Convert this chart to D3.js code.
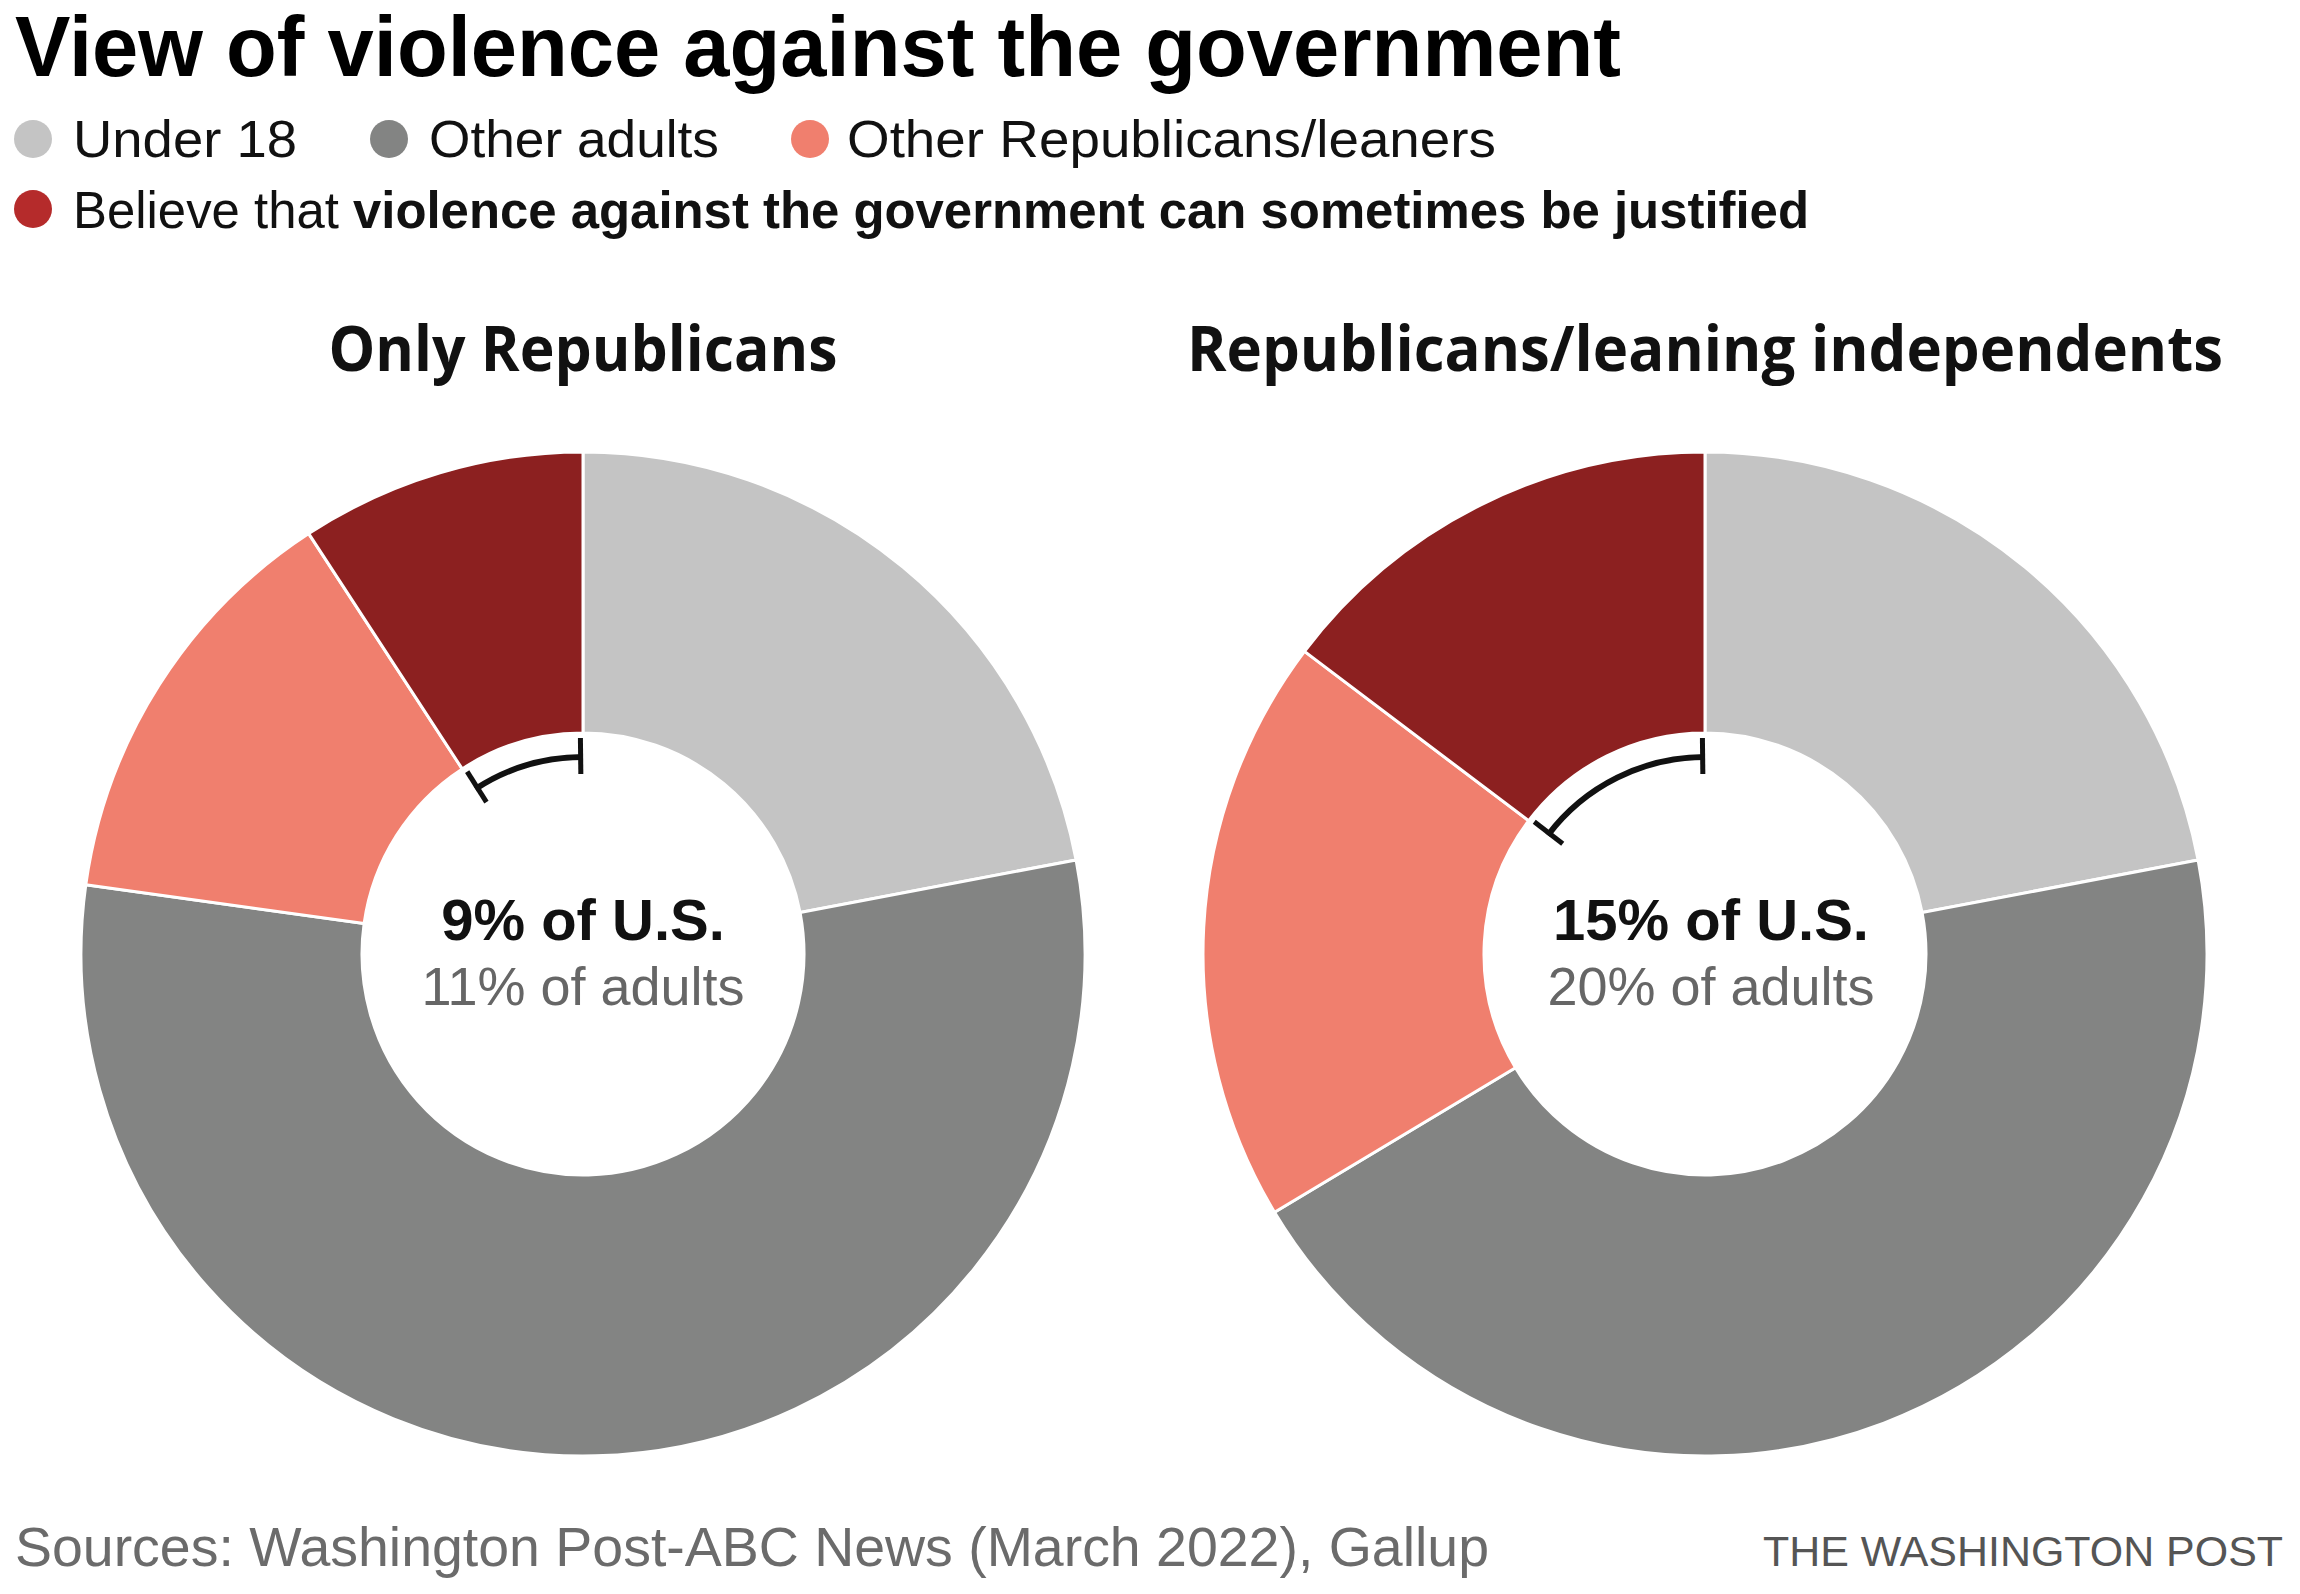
<!DOCTYPE html>
<html><head><meta charset="utf-8">
<script src="https://cdn.jsdelivr.net/npm/d3@7"></script>
<style>
html,body{margin:0;padding:0;background:#fff;}
svg{display:block;}
</style></head>
<body>
<svg id="chart" width="2300" height="1594"></svg>
<script>
// ---- data ----
const categories = ["Under 18", "Other adults", "Other Republicans/leaners", "Believe violence can be justified"];
const onlyRepublicans = [22, 55.2, 13.6, 9.2];
const republicansLeaners = [22, 44.4, 18.9, 14.7];
const panelTitles = ["Only Republicans", "Republicans/leaning independents"];
const centerMain = ["9% of U.S.", "15% of U.S."];
const centerSub = ["11% of adults", "20% of adults"];
const sliceColors = ["#c4c4c4", "#838483", "#f07f6e", "#8c2020"];
const legendColors = ["#c4c4c4", "#838483", "#f07f6e", "#b52b2b"];

const svg = d3.select("#chart");
const narrow = "'Liberation Sans Narrow', 'Liberation Sans', Arial, sans-serif";
const wide = "'Liberation Sans', Arial, sans-serif";

// Title
svg.append("text").attr("x", 15).attr("y", 76)
  .attr("font-family", narrow).attr("font-weight", 700).attr("font-size", 85)
  .attr("textLength", 1606).attr("lengthAdjust", "spacingAndGlyphs")
  .attr("fill", "#000").text("View of violence against the government");

// Legend row 1
const leg1 = [
  {i:0, cx:33, tx:73, w:224},
  {i:1, cx:389, tx:429, w:290},
  {i:2, cx:810, tx:847, w:649}
];
leg1.forEach(d => {
  svg.append("circle").attr("cx", d.cx).attr("cy", 139).attr("r", 19).attr("fill", legendColors[d.i]);
  svg.append("text").attr("x", d.tx).attr("y", 157)
    .attr("font-family", narrow).attr("font-size", 52).attr("fill", "#111")
    .attr("textLength", d.w).attr("lengthAdjust", "spacingAndGlyphs")
    .text(categories[d.i]);
});
// Legend row 2
svg.append("circle").attr("cx", 33).attr("cy", 209).attr("r", 19).attr("fill", legendColors[3]);
const t2 = svg.append("text").attr("x", 73).attr("y", 228)
  .attr("font-family", narrow).attr("font-size", 52).attr("fill", "#111")
  .attr("textLength", 1736).attr("lengthAdjust", "spacingAndGlyphs");
t2.append("tspan").text("Believe that ");
t2.append("tspan").attr("font-weight", 700).text("violence against the government can sometimes be justified");

// Pies
const panels = [
  {cx:583, cy:954, values:onlyRepublicans, titleW:509, textDx:0},
  {cx:1705, cy:954, values:republicansLeaners, titleW:1036, textDx:6}
];
const rOuter = 502, rInner = 221;
const pie = d3.pie().sort(null).value(d => d);
const arc = d3.arc().innerRadius(rInner).outerRadius(rOuter);

panels.forEach((p, k) => {
  svg.append("text").attr("x", p.cx).attr("y", 371).attr("text-anchor", "middle")
    .attr("font-family", "'Open Sans', 'Noto Sans', sans-serif").attr("font-weight", 700)
    .attr("font-size", 63).attr("fill", "#111")
    .attr("textLength", p.titleW).attr("lengthAdjust", "spacingAndGlyphs")
    .text(panelTitles[k]);

  const g = svg.append("g").attr("transform", `translate(${p.cx},${p.cy})`);
  const arcs = pie(p.values);
  g.selectAll("path.slice").data(arcs).join("path")
    .attr("class", "slice")
    .attr("d", arc)
    .attr("fill", (d, i) => sliceColors[i])
    .attr("stroke", "#fff").attr("stroke-width", 3).attr("stroke-linejoin", "round");

  // bracket over the last slice
  const b = arcs[3];
  const rb = 197;
  const path = d3.path();
  path.arc(0, 0, rb, b.startAngle - Math.PI / 2, b.endAngle - Math.PI / 2);
  g.append("path").attr("d", path.toString()).attr("fill", "none")
    .attr("stroke", "#111").attr("stroke-width", 6);
  [b.startAngle + 0.012, b.endAngle - 0.012].forEach(a => {
    const s = Math.sin(a), c = -Math.cos(a);
    g.append("line")
      .attr("x1", s * 180).attr("y1", c * 180)
      .attr("x2", s * 216).attr("y2", c * 216)
      .attr("stroke", "#111").attr("stroke-width", 5);
  });

  g.append("text").attr("x", p.textDx).attr("y", -14).attr("text-anchor", "middle")
    .attr("font-family", wide).attr("font-weight", 700).attr("font-size", 58)
    .attr("fill", "#111").text(centerMain[k]);
  g.append("text").attr("x", p.textDx).attr("y", 51).attr("text-anchor", "middle")
    .attr("font-family", wide).attr("font-size", 54)
    .attr("fill", "#666").text(centerSub[k]);
});

// Footer
svg.append("text").attr("x", 15).attr("y", 1566)
  .attr("font-family", narrow).attr("font-size", 56).attr("fill", "#6b6b6b")
  .attr("textLength", 1474).attr("lengthAdjust", "spacingAndGlyphs")
  .text("Sources: Washington Post-ABC News (March 2022), Gallup");
svg.append("text").attr("x", 1763).attr("y", 1566)
  .attr("font-family", narrow).attr("font-size", 42).attr("fill", "#555")
  .attr("textLength", 520).attr("lengthAdjust", "spacingAndGlyphs")
  .text("THE WASHINGTON POST");
</script>
</body></html>
